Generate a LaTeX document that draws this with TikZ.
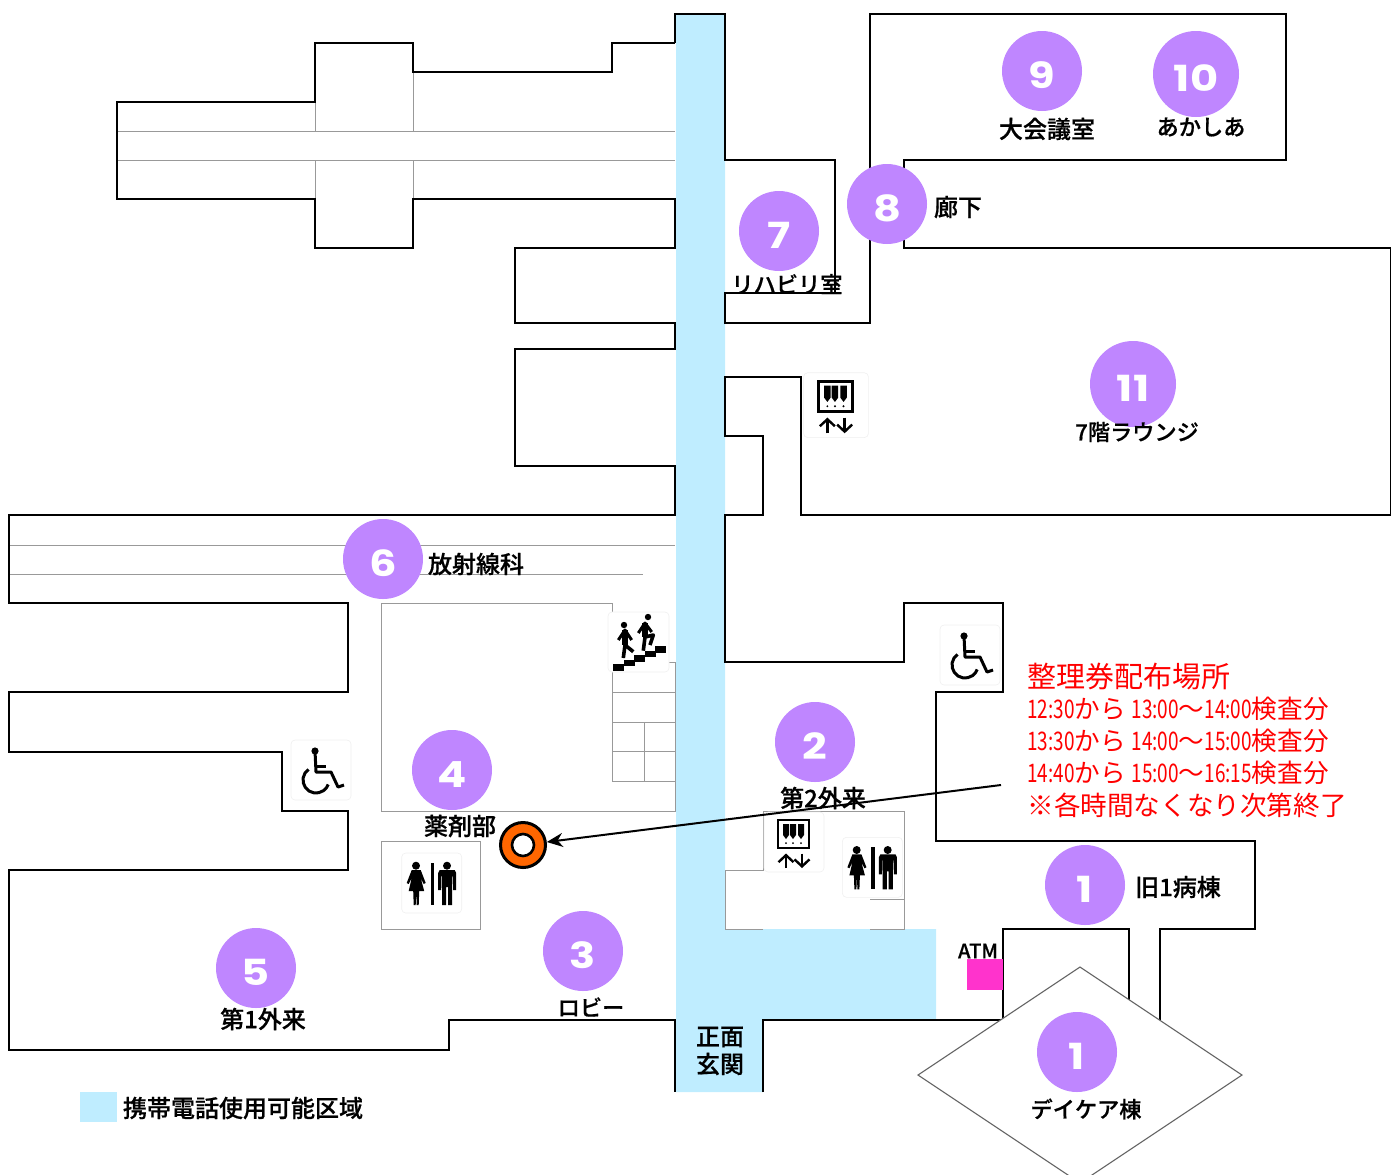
\documentclass[tikz,border=0pt]{standalone}
\usepackage{fontspec}
\usetikzlibrary{arrows.meta}
\setmainfont{Noto Sans CJK JP}[BoldFont=Noto Sans CJK JP Medium, BoldFeatures={FakeBold=0.6}]
\newfontfamily\numfont{Poppins}[FakeStretch=1.2]
\newfontfamily\narrowlat[FakeStretch=0.74]{Noto Sans CJK JP}
\definecolor{phoneblue}{HTML}{BFEDFF}
\definecolor{dotpurple}{HTML}{BF86FF}
\definecolor{spotorange}{HTML}{FF6600}
\definecolor{atmpink}{HTML}{FF33CC}
\definecolor{thingray}{HTML}{999999}

\begin{document}
\begin{tikzpicture}[x=0.5pt, y=-0.5pt,
  every node/.style = {inner sep=0pt},
  wall/.style = {draw=black, line width=1.1pt, line join=miter},
  thin wall/.style = {draw=thingray, line width=0.5pt},
  numdot/.style = {circle, fill=dotpurple, minimum size=40pt, text=white,
    font=\numfont\bfseries\fontsize{18}{18}\selectfont, text height=17.6pt, text depth=0pt},
  bignum/.style = {numdot, minimum size=43pt},
  place/.style = {font=\bfseries\fontsize{12}{14}\selectfont},
  kanaplace/.style = {font=\bfseries\fontsize{11.1}{13}\selectfont},
  redline/.style = {anchor=west, text=red, font=\fontsize{12.8}{15}\selectfont},
  iconbox/.style = {draw=black!6, fill=white, rounded corners=2pt, line width=0.3pt},
  pics/wheelicon/.style = {code={
    \draw[iconbox] (-30,-30) rectangle (30,30);
    \fill (-6,-19) circle (3.6);
    \draw[line width=1.5pt, line join=round] (-6,-19) -- (-5,2) -- (10,2) -- (17,17) -- (23,15);
    \draw[line width=1.5pt] (-5,-4) -- (5,-4);
    \draw[line width=1.5pt] (-5,10) ++(235:13) arc[start angle=235, end angle=20, radius=13];
  }},
  pics/lifticon/.style = {code={
    \draw[iconbox] (-30,-28) rectangle (30,32);
    \draw[line width=1.3pt] (-16,-20) rectangle (15,8);
    \foreach \px in {-8,-1,7} {
      \fill (\px-3,-16) -- (\px+3,-16) -- (\px+3,-5) -- (\px,-1) -- (\px-3,-5) -- cycle;
      \fill (\px,3) circle (1);
    }
    \draw[line width=1.2pt, -{Straight Barb[length=3.5pt,width=7.5pt]}] (-8,28) -- (-8,13.5);
    \draw[line width=1.2pt, -{Straight Barb[length=3.5pt,width=7.5pt]}] (8,13.5) -- (8,28);
  }},
  pics/toileticon/.style = {code={
    \draw[iconbox] (-30,-30) rectangle (30,30);
    \fill (-15.7,-17.3) circle (4);
    \fill (-20,-13) -- (-11,-13) -- (-6,0) -- (-8,1) -- (-11,-5) -- (-7.5,8) -- (-12.5,8)
      -- (-13,22) -- (-15,22) -- (-15.5,8) -- (-16,22) -- (-18,22) -- (-18.5,8)
      -- (-23,8) -- (-20,-5) -- (-23,1) -- (-25,0) -- cycle;
    \fill (-1,-20) rectangle (2.2,22);
    \fill (15.3,-17.3) circle (4);
    \fill (8,-13) -- (23,-13) -- (24.5,-10) -- (24.5,7) -- (21.5,7) -- (21,-7) -- (20.5,-7)
      -- (20.5,22) -- (16.3,22) -- (16.3,4) -- (14.5,4) -- (14.5,22) -- (10.3,22)
      -- (10.3,-7) -- (9.8,-7) -- (9.5,7) -- (6.5,7) -- (6.5,-10) -- cycle;
  }},
  pics/stairicon/.style = {code={
    \draw[iconbox] (-29,-30) rectangle (32,30);
    \foreach \k in {0,...,4}
      \fill (-24+10.5*\k,22-4.5*\k) rectangle ++(11,6.5);
    \fill (-13,-17) circle (3.2);
    \fill (11,-25) circle (3.2);
    \draw[line width=1.5pt, line join=round] (-18.7,-2) -- (-12,-12) -- (-5.3,-2);
    \draw[line width=2.6pt, line join=round] (-12,-12) -- (-12,3);
    \draw[line width=1.8pt, line join=round] (-12,3) -- (-13.7,16) (-12,3) -- (-3.7,9.7);
    \draw[line width=1.5pt, line join=round] (1.3,-9) -- (8,-19) -- (14.7,-10);
    \draw[line width=2.6pt, line join=round] (8,-19) -- (8,-5);
    \draw[line width=1.8pt, line join=round] (8,-5) -- (6.3,8.7) (8,-5) -- (16.3,-7) -- (13,3);
  }}]

  \useasboundingbox (0,0) rectangle (1391,1174);

  % mobile phone zone
  \fill[phoneblue] (676,14) -- (725,14) -- (725,929) -- (936,929) -- (936,1020) -- (763,1020) -- (763,1092) -- (676,1092) -- cycle;
  \fill[phoneblue] (80,1092) rectangle (117,1122);

  % thin lines
  \draw[thin wall] (117,131) -- (675,131) (117,160) -- (675,160);
  \draw[thin wall] (315,102) -- (315,131) (315,160) -- (315,199);
  \draw[thin wall] (413,72) -- (413,131) (413,160) -- (413,199);
  \draw[thin wall] (9,545) -- (675,545) (9,574) -- (643,574);
  \draw[thin wall] (612,603) -- (381,603) -- (381,811) -- (675,811) -- (675,662) -- (612,662);
  \draw[thin wall] (612,603) -- (612,781) -- (675,781);
  \draw[thin wall] (612,692) -- (675,692) (612,722) -- (675,722) (612,751) -- (675,751);
  \draw[thin wall] (644,722) -- (644,781);
  \draw[thin wall] (381,841) rectangle (480,929);
  \draw[thin wall] (763,929) -- (725,929) -- (725,870) -- (763,870) -- (763,811) -- (904,811) -- (904,929) -- (870,929);
  \draw[thin wall] (870,899) -- (904,899);

  % walls
  \draw[wall] (675,43) -- (612,43) -- (612,72) -- (413,72) -- (413,43) -- (315,43) -- (315,102)
    -- (117,102) -- (117,199) -- (315,199) -- (315,248) -- (413,248) -- (413,199) -- (675,199)
    -- (675,248) -- (515,248) -- (515,323) -- (675,323) -- (675,349) -- (515,349) -- (515,466)
    -- (675,466) -- (675,515) -- (9,515) -- (9,603) -- (348,603) -- (348,692) -- (9,692)
    -- (9,752) -- (282,752) -- (282,811) -- (348,811) -- (348,870) -- (9,870) -- (9,1050)
    -- (449,1050) -- (449,1020) -- (675,1020) -- (675,1092);
  \draw[wall] (675,43) -- (675,14) -- (725,14) -- (725,160) -- (835,160) -- (835,293) -- (725,293)
    -- (725,323) -- (870,323) -- (870,14) -- (1286,14) -- (1286,160) -- (904,160) -- (904,248)
    -- (1391,248) -- (1391,515) -- (801,515) -- (801,377) -- (725,377) -- (725,436) -- (763,436)
    -- (763,515) -- (725,515) -- (725,662) -- (904,662) -- (904,603) -- (1003,603) -- (1003,692)
    -- (936,692) -- (936,841) -- (1255,841) -- (1255,929) -- (1160,929) -- (1160,1020);
  \draw[wall] (763,1092) -- (763,1020) -- (1003,1020) -- (1003,929) -- (1129,929) -- (1129,1020);

  % icons
  \pic at (970,655) {wheelicon};
  \pic at (321,770) {wheelicon};
  \pic at (637,642) {stairicon};
  \pic[scale=1.08] at (836,403) {lifticon};
  \pic at (794,840) {lifticon};
  \pic at (431.7,883) {toileticon};
  \pic at (872.4,867.3) {toileticon};

  % annex
  \draw[fill=white, draw=black!60, line width=0.55pt] (1080,967) -- (1242,1075) -- (1080,1183) -- (918,1075) -- cycle;
  \fill[atmpink] (967,959) rectangle (1003,990);

  % numbered places
  \node[numdot] (dotNine) at (1042,71) {9};
  \node[bignum] (dotTen) at (1196,74) {10};
  \node[numdot] (dotEight) at (887,204) {8};
  \node[numdot] (dotSeven) at (779,231) {7};
  \node[bignum] (dotEleven) at (1133,384) {11};
  \node[numdot] (dotSix) at (383,559) {6};
  \node[numdot] (dotTwo) at (815,742) {2};
  \node[numdot] (dotFour) at (452,770) {4};
  \node[numdot] (dotOneOld) at (1085,885) {1};
  \node[numdot] (dotThree) at (583,951) {3};
  \node[numdot] (dotFive) at (256,968) {5};
  \node[numdot] (dotOneDay) at (1077,1052) {1};

  \node[place] (hall) at (1047,129) {大会議室};
  \node[kanaplace] (acacia) at (1201,127) {あかしあ};
  \node[place] (corridor) at (958,207) {廊下};
  \node[kanaplace] (rehab) at (787,284) {リハビリ室};
  \node[kanaplace] (lounge) at (1137,432) {7階ラウンジ};
  \node[place] (radio) at (476,564) {放射線科};
  \node[place] (outTwo) at (823,798) {第2外来};
  \node[place] (pharmacy) at (460,826) {薬剤部};
  \node[place] (oldOne) at (1178,887) {旧1病棟};
  \node[place, font=\bfseries\fontsize{10}{11}\selectfont] (atm) at (978,951) {ATM};
  \node[kanaplace] (lobby) at (591,1007) {ロビー};
  \node[place] (outOne) at (263,1019) {第1外来};
  \node[kanaplace] (daycare) at (1086,1109) {デイケア棟};
  \node[place] (front) at (720,1037) {正面};
  \node[place] (entrance) at (720,1064) {玄関};
  \node[place] (legend) at (243,1108) {携帯電話使用可能区域};

  % ticket notice
  \node[redline, font=\fontsize{14.5}{16}\selectfont] (notice) at (1027,676) {整理券配布場所};
  \node[redline] (lineA) at (1027,709) {{\narrowlat 12:30}から {\narrowlat 13:00}〜{\narrowlat 14:00}検査分};
  \node[redline] (lineB) at (1027,741) {{\narrowlat 13:30}から {\narrowlat 14:00}〜{\narrowlat 15:00}検査分};
  \node[redline] (lineC) at (1027,773) {{\narrowlat 14:40}から {\narrowlat 15:00}〜{\narrowlat 16:15}検査分};
  \node[redline, font=\fontsize{13.3}{15}\selectfont] (lineD) at (1027,805) {※各時間なくなり次第終了};

  \node[circle, draw=black, fill=spotorange, line width=1.5pt, minimum size=22.5pt] (spot) at (523,845) {};
  \node[circle, draw=black, fill=white, line width=1.3pt, minimum size=11pt] (spotHole) at (523,845) {};
  \coordinate (noticeEnd) at (1001,785);
  \draw[line width=1pt, -{Stealth[length=8pt,width=7pt]}] (noticeEnd) -- (spot);
\end{tikzpicture}
\end{document}
